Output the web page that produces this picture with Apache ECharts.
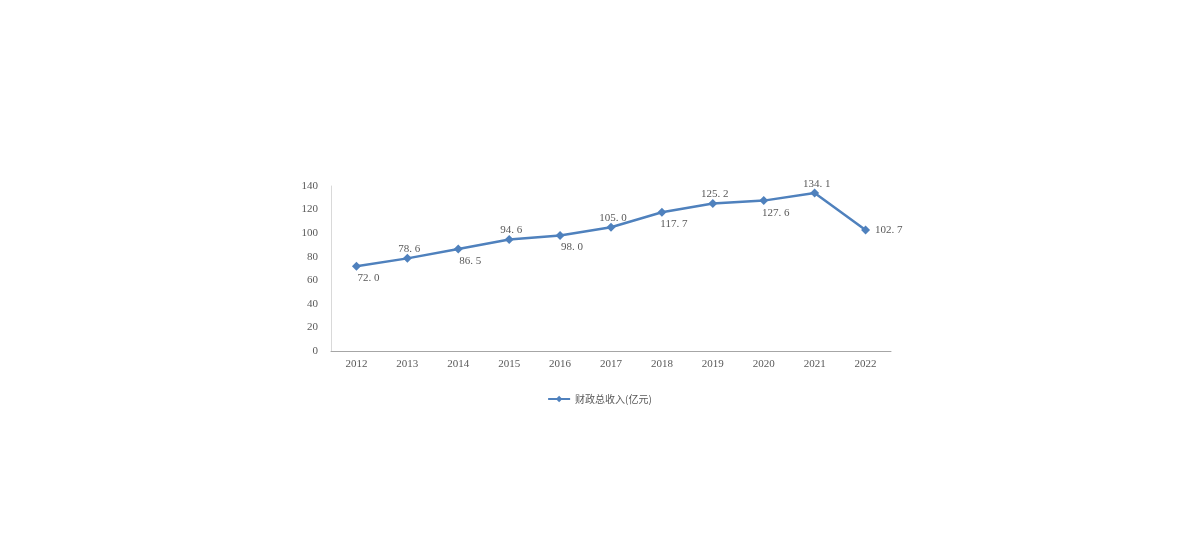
<!DOCTYPE html>
<html>
<head>
<meta charset="utf-8">
<script src="https://cdn.jsdelivr.net/npm/echarts@6/dist/echarts.min.js"></script>
<style>
  html, body { margin: 0; padding: 0; background: #fff; }
  #main { width: 1199px; height: 559px; }
</style>
</head>
<body>
<div id="main"></div>
<script>
var years = ['2012', '2013', '2014', '2015', '2016', '2017', '2018', '2019', '2020', '2021', '2022'];
var revenue = [72.0, 78.6, 86.5, 94.6, 98.0, 105.0, 117.7, 125.2, 127.6, 134.1, 102.7];
// label side for each point, as in the original
var labelSide = ['bottom', 'top', 'bottom', 'top', 'bottom', 'top', 'bottom', 'top', 'bottom', 'top', 'right'];
var seriesName = '财政总收入(亿元)';

var chart = echarts.init(document.getElementById('main'));
var font = '"Liberation Serif", "DejaVu Serif", "Noto Sans CJK SC", serif';

var points = revenue.map(function (v, i) {
  var pos = labelSide[i];
  var lbl = { position: pos };
  if (pos === 'bottom') { lbl.offset = [12, 0]; lbl.distance = 2; }
  else if (pos === 'top') { lbl.offset = [2, 0]; lbl.distance = -1; }
  else { lbl.distance = 5; }
  return { value: v, label: lbl };
});

chart.setOption({
  animation: false,
  textStyle: { fontFamily: font },
  grid: { left: 331, right: 308, top: 186, bottom: 208 },
  legend: {
    bottom: 150,
    left: 'center',
    itemWidth: 22,
    itemHeight: 8,
    textStyle: { color: '#595959', fontSize: 10, fontFamily: '"Noto Sans CJK SC", sans-serif' },
    data: [seriesName]
  },
  xAxis: {
    type: 'category',
    data: years,
    boundaryGap: true,
    axisLine: { lineStyle: { color: '#a6a6a6' } },
    axisTick: { show: false },
    axisLabel: { color: '#595959', fontSize: 11, margin: 8, fontFamily: font }
  },
  yAxis: {
    type: 'value',
    min: 0,
    max: 140,
    interval: 20,
    axisLine: { show: true, lineStyle: { color: '#d9d9d9' } },
    axisTick: { show: false },
    splitLine: { show: false },
    axisLabel: { color: '#595959', fontSize: 11, margin: 13, fontFamily: font }
  },
  series: [{
    name: seriesName,
    type: 'line',
    data: points,
    symbol: 'diamond',
    symbolSize: 9,
    lineStyle: { color: '#4f81bd', width: 2.5 },
    itemStyle: { color: '#4f81bd' },
    label: {
      show: true,
      color: '#595959',
      fontSize: 11,
      fontFamily: font,
      formatter: function (p) { return p.value.toFixed(1).replace('.', '. '); }
    }
  }]
});
</script>
</body>
</html>
